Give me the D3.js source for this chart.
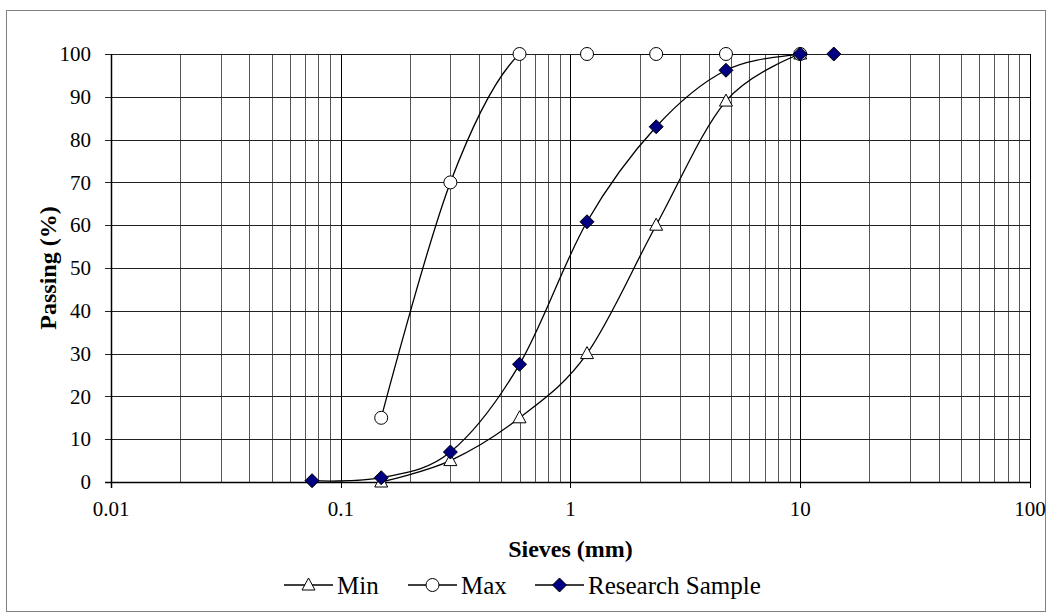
<!DOCTYPE html>
<html>
<head>
<meta charset="utf-8">
<script src="https://cdn.jsdelivr.net/npm/d3@7"></script>
<style>
  body { margin: 0; background: #fff; }
  text { font-family: "Liberation Serif", "Times New Roman", serif; fill: #000; }
</style>
</head>
<body>
<svg id="chart" width="1053" height="616"></svg>
<script>
// sieve sizes (mm) and percent passing
var minSieves = [0.15, 0.3, 0.6, 1.18, 2.36, 4.75, 10];
var minPassing = [0, 5, 15, 30, 60, 89, 100];

var maxSieves = [0.15, 0.3, 0.6, 1.18, 2.36, 4.75, 10];
var maxPassing = [15, 70, 100, 100, 100, 100, 100];

var sampleSieves = [0.075, 0.15, 0.3, 0.6, 1.18, 2.36, 4.75, 10, 14];
var samplePassing = [0.3, 1, 7, 27.5, 60.8, 83, 96.2, 100, 100];

var xTicks = [0.01, 0.1, 1, 10, 100];
var yTicks = [0, 10, 20, 30, 40, 50, 60, 70, 80, 90, 100];

var pLeft = 111, pRight = 1030, pTop = 54, pBottom = 482;

var svg = d3.select("#chart");

// outer chart frame
svg.append("rect")
    .attr("x", 6.5).attr("y", 10.5)
    .attr("width", 1039).attr("height", 601)
    .attr("fill", "none").attr("stroke", "#808080").attr("stroke-width", 1);

var x = d3.scaleLog().domain([0.01, 100]).range([pLeft, pRight]);
var y = d3.scaleLinear().domain([0, 100]).range([pBottom, pTop]);

// minor vertical grid
var minor = [];
[0.01, 0.1, 1, 10].forEach(function(d) {
    for (var k = 2; k <= 9; k++) minor.push(d * k);
});

svg.append("g").selectAll("line")
    .data(minor).enter().append("line")
    .attr("x1", function(d) { return Math.round(x(d)) + 0.5; })
    .attr("x2", function(d) { return Math.round(x(d)) + 0.5; })
    .attr("y1", pTop).attr("y2", pBottom)
    .attr("stroke", "#555").attr("stroke-width", 1);

svg.append("g").selectAll("line")
    .data(xTicks).enter().append("line")
    .attr("x1", function(d) { return Math.round(x(d)) + 0.5; })
    .attr("x2", function(d) { return Math.round(x(d)) + 0.5; })
    .attr("y1", pTop).attr("y2", pBottom + 6)
    .attr("stroke", "#000").attr("stroke-width", 1);

svg.append("g").selectAll("line")
    .data(yTicks).enter().append("line")
    .attr("x1", pLeft - 6).attr("x2", pRight)
    .attr("y1", function(d) { return Math.round(y(d)) + 0.5; })
    .attr("y2", function(d) { return Math.round(y(d)) + 0.5; })
    .attr("stroke", "#222").attr("stroke-width", 1);

// axis lines a bit heavier
svg.append("line")
    .attr("x1", pLeft + 0.5).attr("x2", pLeft + 0.5)
    .attr("y1", pTop).attr("y2", pBottom + 6)
    .attr("stroke", "#000").attr("stroke-width", 1.5);
svg.append("line")
    .attr("x1", pLeft - 6).attr("x2", pRight)
    .attr("y1", pBottom + 0.5).attr("y2", pBottom + 0.5)
    .attr("stroke", "#000").attr("stroke-width", 1.5);

// tick labels
svg.append("g").selectAll("text")
    .data(yTicks).enter().append("text")
    .attr("x", pLeft - 20)
    .attr("y", function(d) { return y(d); })
    .attr("dy", "0.34em")
    .attr("text-anchor", "end")
    .style("font-size", "21px")
    .text(function(d) { return d; });

svg.append("g").selectAll("text")
    .data(xTicks).enter().append("text")
    .attr("x", function(d) { return x(d); })
    .attr("y", 516)
    .attr("text-anchor", "middle")
    .style("font-size", "21px")
    .text(function(d) { return d; });

// axis titles
svg.append("text")
    .attr("x", (pLeft + pRight) / 2).attr("y", 557)
    .attr("text-anchor", "middle")
    .style("font-size", "24px").style("font-weight", "bold")
    .text("Sieves (mm)");

svg.append("text")
    .attr("transform", "translate(56," + (pTop + pBottom) / 2 + ") rotate(-90)")
    .attr("text-anchor", "middle")
    .style("font-size", "24px").style("font-weight", "bold")
    .text("Passing (%)");

// clip curves to plot area like the original
svg.append("clipPath").attr("id", "plotclip")
    .append("rect")
    .attr("x", pLeft).attr("y", pTop)
    .attr("width", pRight - pLeft).attr("height", pBottom - pTop);

var line = d3.line()
    .x(function(d) { return x(d[0]); })
    .y(function(d) { return y(d[1]); })
    .curve(d3.curveCatmullRom.alpha(0));

var series = [
    { name: "Min", xs: minSieves, ys: minPassing, marker: "triangle" },
    { name: "Max", xs: maxSieves, ys: maxPassing, marker: "circle" },
    { name: "Research Sample", xs: sampleSieves, ys: samplePassing, marker: "diamond" }
];

function drawMarker(g, type, cx, cy) {
    if (type === "circle") {
        g.append("circle").attr("cx", cx).attr("cy", cy).attr("r", 6.5)
            .attr("fill", "#fff").attr("stroke", "#000").attr("stroke-width", 1);
    } else if (type === "triangle") {
        g.append("path")
            .attr("d", "M" + cx + "," + (cy - 7) + "L" + (cx + 6.5) + "," + (cy + 5) + "L" + (cx - 6.5) + "," + (cy + 5) + "Z")
            .attr("fill", "#fff").attr("stroke", "#000").attr("stroke-width", 1);
    } else {
        g.append("path")
            .attr("d", "M" + cx + "," + (cy - 7) + "L" + (cx + 7) + "," + cy + "L" + cx + "," + (cy + 7) + "L" + (cx - 7) + "," + cy + "Z")
            .attr("fill", "#000080").attr("stroke", "#000").attr("stroke-width", 1);
    }
}

series.forEach(function(s) {
    var pts = s.xs.map(function(v, i) { return [v, s.ys[i]]; });
    svg.append("path")
        .datum(pts)
        .attr("clip-path", "url(#plotclip)")
        .attr("fill", "none").attr("stroke", "#000").attr("stroke-width", 1.3)
        .attr("d", line);
    s.pts = pts;
});

series.forEach(function(s) {
    var g = svg.append("g");
    s.pts.forEach(function(p) { drawMarker(g, s.marker, x(p[0]), y(p[1])); });
});

// legend
var legendX = [284, 408, 535];
var legendY = 585;
series.forEach(function(s, i) {
    var g = svg.append("g");
    g.append("line")
        .attr("x1", legendX[i]).attr("x2", legendX[i] + 49)
        .attr("y1", legendY).attr("y2", legendY)
        .attr("stroke", "#000").attr("stroke-width", 1.3);
    drawMarker(g, s.marker, legendX[i] + 24.5, legendY);
    g.append("text")
        .attr("x", legendX[i] + 53).attr("y", legendY + 9)
        .style("font-size", "25px")
        .text(s.name);
});
</script>
</body>
</html>
